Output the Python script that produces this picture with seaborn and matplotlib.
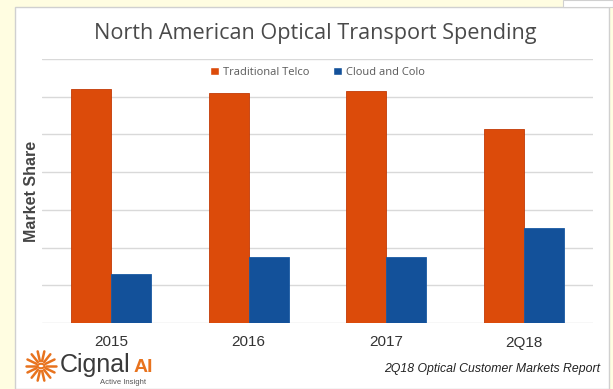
import matplotlib.pyplot as plt
import seaborn as sns
import pandas as pd
import numpy as np
from matplotlib.patches import Rectangle, Circle

# Chart data (market share, %)
periods = ["2015", "2016", "2017", "2Q18"]
series = ["Traditional Telco", "Cloud and Colo"]
telco_share = [62, 61, 61.5, 51.5]
cloud_share = [13, 17.5, 17.5, 25.3]

colors = {"Traditional Telco": "#DC4B0A", "Cloud and Colo": "#13519A"}
edges = {"Traditional Telco": "#C23A06", "Cloud and Colo": "#1A5AA3"}

rows = []
for p, t, c in zip(periods, telco_share, cloud_share):
    rows.append({"Period": p, "Series": series[0], "Share": t})
    rows.append({"Period": p, "Series": series[1], "Share": c})
df = pd.DataFrame(rows)

sns.set_theme(style="white")
plt.rcParams["font.family"] = ["Liberation Sans", "DejaVu Sans"]

fig = plt.figure(figsize=(6.13, 3.89), dpi=100)
fig.patch.set_facecolor("#FFFDE1")

# white chart panel on the yellow page (kept behind the axes)
fig.patches.append(Rectangle((15 / 613, 0), 594 / 613, 1 - 7 / 389, transform=fig.transFigure,
                             facecolor="white", edgecolor="#D0D0D0", lw=1, zorder=-10))
fig.patches.append(Rectangle((563 / 613, 1 - 7 / 389), 50 / 613, 7 / 389, transform=fig.transFigure,
                             facecolor="white", edgecolor="#D0D0D0", lw=0.8, zorder=-10))

ax = fig.add_axes([42 / 613, 1 - 323 / 389, 551 / 613, 264 / 389])
ax.set_facecolor("none")
sns.barplot(data=df, x="Period", y="Share", hue="Series", palette=colors,
            width=0.58, saturation=1, ax=ax, zorder=3)

for patch, s in zip(ax.patches, [s for s in series for _ in periods]):
    patch.set_edgecolor(edges[s])
    patch.set_linewidth(0.6)

ax.set_ylim(0, 70)
ax.set_xlim(-0.5, 3.5)
ax.set_yticks(np.arange(0, 71, 10))
ax.yaxis.grid(True, color="#D9D9D9", lw=1)
ax.set_axisbelow(True)
ax.set_yticklabels([])
ax.tick_params(axis="y", length=0)
ax.tick_params(axis="x", length=0, labelsize=11, labelcolor="#333333", pad=9)
for s in ax.spines.values():
    s.set_visible(False)
ax.set_xlabel("")
ax.set_ylabel("Market Share", fontsize=11.5, fontweight="bold", color="#454545", labelpad=-1)

leg = ax.legend(loc="upper center", bbox_to_anchor=(0.5, 1.008), ncol=2, frameon=False,
                fontsize=8, handlelength=0.8, handleheight=0.8, handletextpad=0.3,
                columnspacing=2.2)
for t in leg.get_texts():
    t.set_color("#595959")
    t.set_family(["Open Sans", "DejaVu Sans"])

fig.text(0.515, 1 - 34 / 389, "North American Optical Transport Spending", ha="center", va="center",
         fontsize=15.6, color="#4A4A4A", family=["Open Sans", "DejaVu Sans"])

# logo
cx, cy = 41, 366
for ang in np.linspace(0, 2 * np.pi, 14, endpoint=False):
    x0, y0 = cx + 5 * np.cos(ang), cy + 5 * np.sin(ang)
    x1, y1 = cx + 15 * np.cos(ang), cy + 15 * np.sin(ang)
    fig.add_artist(plt.Line2D([x0 / 613, x1 / 613], [1 - y0 / 389, 1 - y1 / 389],
                              color="#E8731E", lw=1.8))
fig.patches.append(Circle((cx / 613, 1 - cy / 389), 3.5 / 613, transform=fig.transFigure,
                          facecolor="white", edgecolor="#E8731E", lw=1.5))
fig.text(60 / 613, 1 - 365 / 389, "Cignal", fontsize=18, color="#3A3A3A", va="center", ha="left")
fig.text(134 / 613, 1 - 367 / 389, "AI", fontsize=14, color="#E8731E", fontweight="bold", va="center")
fig.text(100 / 613, 1 - 383 / 389, "Active Insight", fontsize=5.5, color="#555555", va="center")

fig.text(600 / 613, 1 - 369 / 389, "2Q18 Optical Customer Markets Report", ha="right", va="center",
         fontsize=8.8, style="italic", color="#222222")

fig.savefig("out.png", dpi=100, facecolor=fig.get_facecolor())
